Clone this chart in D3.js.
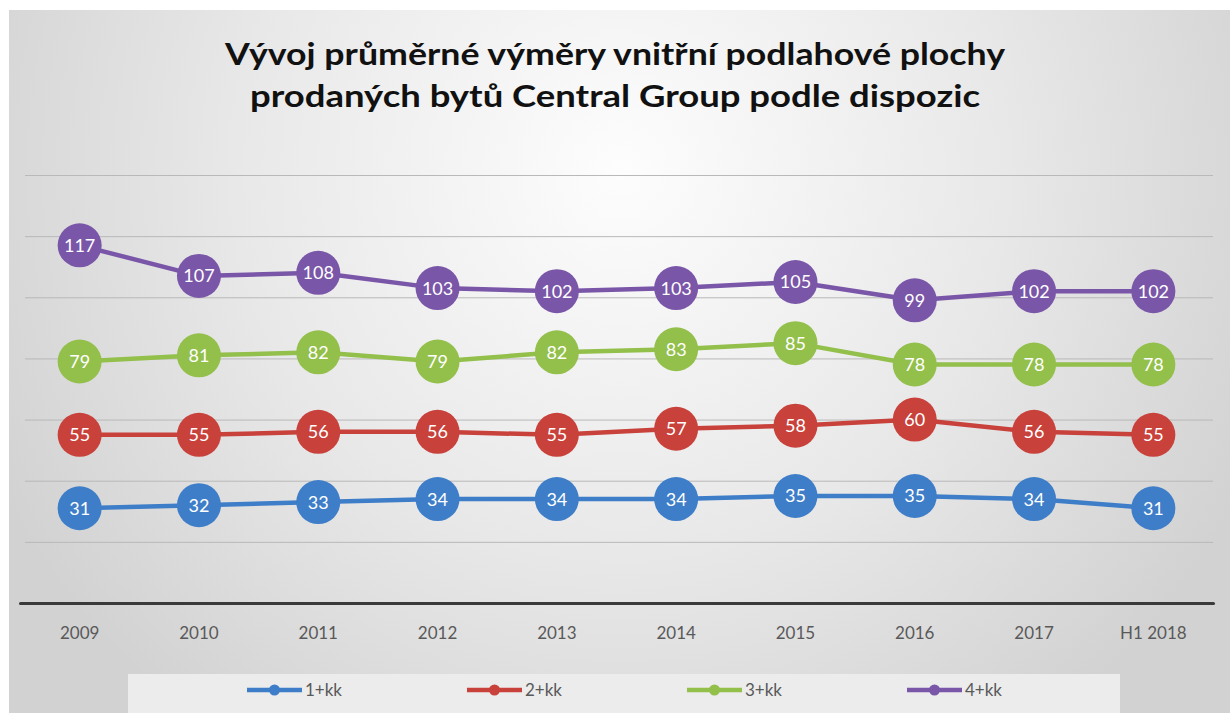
<!DOCTYPE html>
<html>
<head>
<meta charset="utf-8">
<script src="https://cdn.jsdelivr.net/npm/d3@7"></script>
<style>
  body { margin: 0; background: #fff; }
  text { font-family: Lato, "Open Sans", sans-serif; }
</style>
</head>
<body>
<div id="chart"></div>
<script>
const width = 1230;
const height = 713;

// data
const categories = ["2009", "2010", "2011", "2012", "2013", "2014", "2015", "2016", "2017", "H1 2018"];
const seriesNames = ["1+kk", "2+kk", "3+kk", "4+kk"];
const seriesColors = ["#3e7dc8", "#c8413b", "#93bf4b", "#7a56a8"];
const kk1 = [31, 32, 33, 34, 34, 34, 35, 35, 34, 31];
const kk2 = [55, 55, 56, 56, 55, 57, 58, 60, 56, 55];
const kk3 = [79, 81, 82, 79, 82, 83, 85, 78, 78, 78];
const kk4 = [117, 107, 108, 103, 102, 103, 105, 99, 102, 102];
const gridTicks = [20, 40, 60, 80, 100, 120, 140];
const titleLines = ["Vývoj průměrné výměry vnitřní podlahové  plochy", "prodaných bytů Central Group podle dispozic"];

const series = [kk1, kk2, kk3, kk4].map((vals, i) => ({
    name: seriesNames[i],
    color: seriesColors[i],
    values: vals.map((v, j) => ({cat: categories[j], v: v}))
}));

const svg = d3.select("#chart")
    .append("svg")
    .attr("width", width)
    .attr("height", height)
    .attr("viewBox", [0, 0, width, height]);

// background
const defs = svg.append("defs");
const grad = defs.append("radialGradient")
    .attr("id", "bg")
    .attr("gradientUnits", "userSpaceOnUse")
    .attr("cx", 620).attr("cy", 170).attr("r", 700);
grad.append("stop").attr("offset", "0").attr("stop-color", "#fdfdfd");
grad.append("stop").attr("offset", "0.55").attr("stop-color", "#e8e8e8");
grad.append("stop").attr("offset", "1").attr("stop-color", "#d2d2d2");

svg.append("rect")
    .attr("x", 9).attr("y", 10)
    .attr("width", width - 9).attr("height", height - 10)
    .attr("fill", "url(#bg)");

// title
svg.selectAll(".title")
    .data(titleLines)
    .enter()
    .append("text")
    .attr("class", "title")
    .attr("x", 615)
    .attr("y", (d, i) => 65 + i * 42)
    .attr("text-anchor", "middle")
    .attr("font-size", "30px")
    .attr("font-weight", "bold")
    .attr("fill", "#111")
    .attr("textLength", (d, i) => i === 0 ? 780 : 730)
    .attr("lengthAdjust", "spacingAndGlyphs")
    .text(d => d);

// scales
const xScale = d3.scaleBand()
    .domain(categories)
    .range([20, 1213]);

const yScale = d3.scaleLinear()
    .domain([0, 140])
    .range([603, 175]);

// grid
svg.append("g")
    .attr("class", "grid")
    .attr("transform", "translate(25, 0)")
    .call(d3.axisLeft(yScale).tickValues(gridTicks).tickSize(-(1213 - 25)).tickFormat(""))
    .call(g => g.select(".domain").remove())
    .call(g => g.selectAll("line").attr("stroke", "#b9b9b9").attr("stroke-width", 1));

// x axis
svg.append("g")
    .attr("class", "xAxis")
    .attr("transform", `translate(0, ${yScale(0)})`)
    .call(d3.axisBottom(xScale).tickSize(0).tickPadding(24))
    .call(g => g.select(".domain").attr("stroke", "#3a3a3a").attr("stroke-width", 3).attr("stroke-linecap", "round"))
    .call(g => g.selectAll("text")
        .attr("font-size", "17px")
        .attr("fill", "#595959")
        .style("font-family", "Lato, sans-serif"));

// lines
const line = d3.line()
    .x(d => xScale(d.cat) + xScale.bandwidth() / 2)
    .y(d => yScale(d.v));

const sg = svg.selectAll(".series")
    .data(series)
    .enter()
    .append("g")
    .attr("class", "series");

sg.append("path")
    .attr("d", d => line(d.values))
    .attr("fill", "none")
    .attr("stroke", d => d.color)
    .attr("stroke-width", 4.5)
    .attr("stroke-linejoin", "round");

const pts = sg.selectAll("g.pt")
    .data(d => d.values.map(p => ({...p, color: d.color})))
    .enter()
    .append("g")
    .attr("class", "pt")
    .attr("transform", d => `translate(${xScale(d.cat) + xScale.bandwidth() / 2}, ${yScale(d.v)})`);

pts.append("circle")
    .attr("r", 22)
    .attr("fill", d => d.color);

pts.append("text")
    .attr("text-anchor", "middle")
    .attr("dy", "0.36em")
    .attr("font-size", "18px")
    .attr("fill", "#fff")
    .text(d => d.v);

// legend
svg.append("rect")
    .attr("x", 128).attr("y", 674)
    .attr("width", 992).attr("height", 39)
    .attr("fill", "#ececec");

const legend = svg.selectAll(".legend")
    .data(series)
    .enter()
    .append("g")
    .attr("class", "legend")
    .attr("transform", (d, i) => `translate(${247 + i * 220}, 690)`);

legend.append("line")
    .attr("x1", 0).attr("x2", 55)
    .attr("stroke", d => d.color)
    .attr("stroke-width", 4.5);

legend.append("circle")
    .attr("cx", 27.5)
    .attr("r", 5.5)
    .attr("fill", d => d.color);

legend.append("text")
    .attr("x", 58)
    .attr("dy", "0.35em")
    .attr("font-size", "17px")
    .attr("fill", "#595959")
    .text(d => d.name);
</script>
</body>
</html>
